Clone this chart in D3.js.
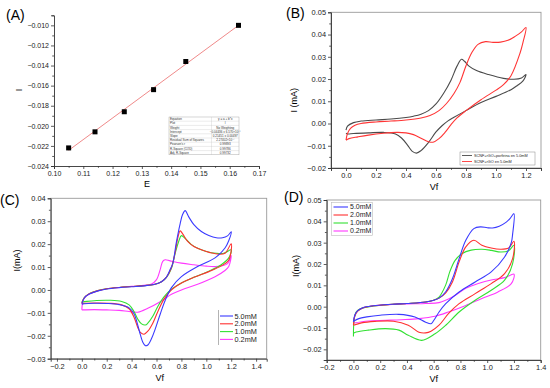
<!DOCTYPE html>
<html>
<head>
<meta charset="utf-8">
<script src="https://cdn.jsdelivr.net/npm/d3@7"></script>
<style>
  body { margin: 0; background: #fff; }
  svg { display: block; font-family: "Liberation Sans", Arial, sans-serif; }
</style>
</head>
<body>
<svg id="fig" width="550" height="388"></svg>
<script>
// ---------- (A) peak current vs potential ----------
const aE = [0.105, 0.114, 0.124, 0.134, 0.145, 0.163]
const aI = [-0.0222, -0.0206, -0.0186, -0.0164, -0.0136, -0.0100]
const aFitLabels = ['Equation', 'Plot', 'Weight', 'Intercept', 'Slope', 'Residual Sum of Squares', "Pearson's r", 'R-Square (COD)', 'Adj. R-Square']
const aFitValues = ['y = a + b*x', 'I', 'No Weighting', '\u22120.04436 \u00b1 6.570\u00d710\u207b\u2074', '0.21451 \u00b1 0.00497', '2.27402\u00d710\u207b\u2077', '0.99893', '0.99786', '0.99732']

// ---------- (B) 5.0 mM, with / without porphyrin ----------
const bLabels = ['SCNF+rGO+porfirina en 5.0mM', 'SCNF+rGO en 5.0mM']
const bPorf = [[0, -0.0030], [0.01, -0.0012], [0.05, 0.0004], [0.1, 0.0011], [0.2, 0.0016], [0.3, 0.0020], [0.4, 0.0027], [0.45, 0.0033], [0.5, 0.0042], [0.55, 0.0058], [0.6, 0.0088], [0.65, 0.0135], [0.7, 0.0195], [0.74, 0.0258], [0.77, 0.0289], [0.79, 0.0280], [0.82, 0.0258], [0.87, 0.0238], [0.95, 0.0220], [1.05, 0.0203], [1.12, 0.0199], [1.17, 0.0205], [1.2, 0.0220],
  [1.18, 0.0192], [1.14, 0.0170], [1.1, 0.0152], [1.0, 0.0122], [0.9, 0.0094], [0.8, 0.0058], [0.72, 0.0028], [0.68, 0.0012], [0.64, -0.0010], [0.6, -0.0038], [0.55, -0.0085], [0.5, -0.0122], [0.47, -0.0133], [0.44, -0.0124], [0.41, -0.0097], [0.37, -0.0065], [0.33, -0.0047], [0.25, -0.0040], [0.15, -0.0042], [0.05, -0.0045], [0.01, -0.0047], [0, -0.0044]]
const bNoPorf = [[0, -0.0075], [0.01, -0.0045], [0.03, -0.0022], [0.06, -0.0008], [0.1, 0.0000], [0.2, 0.0007], [0.3, 0.0011], [0.4, 0.0016], [0.5, 0.0025], [0.56, 0.0036], [0.62, 0.0058], [0.67, 0.0090], [0.72, 0.0135], [0.76, 0.0185], [0.8, 0.0260], [0.84, 0.0320], [0.88, 0.0356], [0.93, 0.0368], [0.98, 0.0365], [1.03, 0.0366], [1.08, 0.0374], [1.13, 0.0393], [1.17, 0.0412], [1.2, 0.0432],
  [1.18, 0.0365], [1.16, 0.0316], [1.1, 0.0215], [1.05, 0.0175], [1.0, 0.0150], [0.9, 0.0107], [0.8, 0.0058], [0.74, 0.0025], [0.7, -0.0005], [0.66, -0.0040], [0.62, -0.0068], [0.58, -0.0084], [0.55, -0.0082], [0.5, -0.0066], [0.45, -0.0050], [0.4, -0.0042], [0.34, -0.0040], [0.25, -0.0044], [0.15, -0.0052], [0.08, -0.0060], [0.02, -0.0068], [0, -0.0075]]

// ---------- (C) concentrations ----------
const concLabels = ['5.0mM', '2.0mM', '1.0mM', '0.2mM']
const c50 = [[0, -0.0060], [0.02, -0.0035], [0.06, -0.0018], [0.13, -0.0004], [0.2, 0.0004], [0.3, 0.0010], [0.4, 0.0014], [0.5, 0.0018], [0.58, 0.0024], [0.64, 0.0036], [0.68, 0.0056], [0.71, 0.0090], [0.73, 0.0115], [0.76, 0.0210], [0.79, 0.0290], [0.81, 0.0330], [0.83, 0.0346], [0.86, 0.0318], [0.9, 0.0285], [0.96, 0.0255], [1.02, 0.0238], [1.08, 0.0228], [1.13, 0.0228], [1.17, 0.0236], [1.2, 0.0254],
  [1.18, 0.0215], [1.15, 0.0183], [1.07, 0.0140], [0.93, 0.0102], [0.8, 0.0058], [0.72, 0.0010], [0.67, -0.0045], [0.63, -0.0105], [0.59, -0.0170], [0.56, -0.0212], [0.53, -0.0240], [0.51, -0.0243], [0.49, -0.0228], [0.47, -0.0195], [0.45, -0.0155], [0.42, -0.0105], [0.38, -0.0078], [0.3, -0.0064], [0.2, -0.0059], [0.1, -0.0058], [0.02, -0.0060], [0, -0.0062]]
const c20 = [[0, -0.0058], [0.02, -0.0034], [0.06, -0.0017], [0.13, -0.0003], [0.2, 0.0005], [0.3, 0.0011], [0.4, 0.0015], [0.5, 0.0019], [0.58, 0.0024], [0.64, 0.0036], [0.68, 0.0056], [0.72, 0.0098], [0.75, 0.0165], [0.77, 0.0225], [0.79, 0.0258], [0.81, 0.0245], [0.85, 0.0212], [0.9, 0.0190], [0.96, 0.0175], [1.03, 0.0163], [1.1, 0.0156], [1.15, 0.0160], [1.2, 0.0202],
  [1.18, 0.0130], [1.12, 0.0105], [1.02, 0.0080], [0.9, 0.0055], [0.8, 0.0030], [0.72, 0.0000], [0.66, -0.0040], [0.61, -0.0095], [0.57, -0.0145], [0.53, -0.0180], [0.5, -0.0193], [0.47, -0.0185], [0.45, -0.0165], [0.42, -0.0120], [0.38, -0.0082], [0.32, -0.0065], [0.22, -0.0058], [0.1, -0.0057], [0.02, -0.0058], [0, -0.0060]]
const c10 = [[0, -0.0055], [0.02, -0.0033], [0.06, -0.0016], [0.13, -0.0003], [0.2, 0.0005], [0.3, 0.0011], [0.4, 0.0015], [0.5, 0.0019], [0.58, 0.0024], [0.64, 0.0036], [0.68, 0.0055], [0.72, 0.0095], [0.75, 0.0160], [0.78, 0.0215], [0.8, 0.0237], [0.83, 0.0225], [0.88, 0.0198], [0.94, 0.0180], [1.0, 0.0168], [1.08, 0.0160], [1.14, 0.0160], [1.2, 0.0175],
  [1.18, 0.0140], [1.12, 0.0110], [1.02, 0.0082], [0.9, 0.0055], [0.8, 0.0030], [0.72, 0.0003], [0.66, -0.0030], [0.61, -0.0072], [0.57, -0.0115], [0.53, -0.0145], [0.51, -0.0153], [0.48, -0.0148], [0.45, -0.0128], [0.42, -0.0095], [0.38, -0.0065], [0.32, -0.0050], [0.22, -0.0045], [0.12, -0.0046], [0.04, -0.0050], [0, -0.0054]]
const c02 = [[0, -0.0087], [0.005, -0.0060], [0.02, -0.0035], [0.06, -0.0018], [0.13, -0.0003], [0.2, 0.0005], [0.3, 0.0011], [0.4, 0.0016], [0.5, 0.0020], [0.56, 0.0026], [0.6, 0.0045], [0.63, 0.0090], [0.65, 0.0125], [0.67, 0.0132], [0.71, 0.0127], [0.8, 0.0117], [0.9, 0.0110], [1.0, 0.0104], [1.07, 0.0102], [1.13, 0.0106], [1.17, 0.0115], [1.2, 0.0150],
  [1.18, 0.0102], [1.15, 0.0085], [1.07, 0.0058], [0.93, 0.0025], [0.8, 0.0000], [0.72, -0.0019], [0.64, -0.0048], [0.53, -0.0080], [0.45, -0.0097], [0.38, -0.0094], [0.3, -0.0089], [0.2, -0.0087], [0.1, -0.0086], [0, -0.0087]]

// ---------- (D) concentrations ----------
const d50 = [[0, -0.0072], [0.01, -0.0040], [0.03, -0.0020], [0.07, -0.0005], [0.15, 0.0004], [0.29, 0.0011], [0.4, 0.0015], [0.54, 0.0022], [0.6, 0.0030], [0.64, 0.0040], [0.69, 0.0070], [0.74, 0.0131], [0.79, 0.0225], [0.84, 0.0311], [0.9, 0.0366], [0.95, 0.0374], [1.0, 0.0370], [1.04, 0.0369], [1.09, 0.0377], [1.14, 0.0395], [1.17, 0.0413], [1.2, 0.0436],
  [1.19, 0.0340], [1.18, 0.0300], [1.13, 0.0233], [1.03, 0.0163], [0.91, 0.0116], [0.79, 0.0069], [0.69, 0.0014], [0.64, -0.0025], [0.6, -0.0065], [0.58, -0.0080], [0.54, -0.0073], [0.46, -0.0048], [0.34, -0.0036], [0.2, -0.0040], [0.1, -0.0048], [0.04, -0.0056], [0, -0.0069]]
const d20 = [[0, -0.0087], [0.01, -0.0045], [0.03, -0.0022], [0.07, -0.0006], [0.15, 0.0004], [0.29, 0.0011], [0.4, 0.0015], [0.54, 0.0022], [0.6, 0.0030], [0.64, 0.0040], [0.69, 0.0065], [0.74, 0.0116], [0.79, 0.0210], [0.84, 0.0280], [0.9, 0.0311], [0.96, 0.0288], [1.03, 0.0275], [1.1, 0.0269], [1.16, 0.0275], [1.2, 0.0307],
  [1.19, 0.0225], [1.13, 0.0155], [1.03, 0.0108], [0.91, 0.0061], [0.79, 0.0014], [0.71, -0.0033], [0.64, -0.0087], [0.58, -0.0115], [0.54, -0.0123], [0.49, -0.0120], [0.41, -0.0087], [0.3, -0.0068], [0.16, -0.0069], [0.06, -0.0076], [0, -0.0087]]
const d10 = [[0, -0.0140], [0.005, -0.0060], [0.02, -0.0025], [0.06, -0.0008], [0.15, 0.0003], [0.29, 0.0011], [0.4, 0.0015], [0.54, 0.0022], [0.6, 0.0030], [0.64, 0.0045], [0.69, 0.0102], [0.72, 0.0163], [0.76, 0.0217], [0.81, 0.0248], [0.88, 0.0265], [0.96, 0.0269], [1.03, 0.0264], [1.1, 0.0256], [1.16, 0.0262], [1.2, 0.0288],
  [1.19, 0.0202], [1.13, 0.0124], [1.03, 0.0077], [0.91, 0.0030], [0.79, -0.0025], [0.69, -0.0087], [0.61, -0.0127], [0.51, -0.0158], [0.41, -0.0134], [0.34, -0.0110], [0.24, -0.0103], [0.11, -0.0110], [0.02, -0.0119], [0, -0.0125]]
const d02 = [[0, -0.0077], [0.01, -0.0042], [0.03, -0.0020], [0.07, -0.0005], [0.15, 0.0004], [0.29, 0.0010], [0.4, 0.0013], [0.54, 0.0015], [0.64, 0.0019], [0.74, 0.0045], [0.84, 0.0086], [0.94, 0.0110], [1.03, 0.0125], [1.13, 0.0136], [1.2, 0.0152],
  [1.18, 0.0108], [1.08, 0.0069], [0.96, 0.0038], [0.84, 0.0006], [0.71, -0.0025], [0.61, -0.0045], [0.49, -0.0056], [0.36, -0.0061], [0.24, -0.0064], [0.11, -0.0067], [0, -0.0077]]

const concColors = ['#3a3aff', '#ff3030', '#33e033', '#ff38ff']

const svg = d3.select('#fig')
svg.append('rect').attr('width', 550).attr('height', 388).attr('fill', '#fff')

// draws ticks + minor ticks for one axis
function drawAxis (g, axisFn, scale, majors, minors, fmt, transform) {
  const major = g.append('g').attr('transform', transform)
    .call(axisFn(scale).tickValues(majors).tickSize(3).tickPadding(2).tickFormat(fmt))
  g.append('g').attr('transform', transform)
    .call(axisFn(scale).tickValues(minors).tickSize(1.8).tickFormat(''))
    .call(s => s.select('.domain').remove())
  return major
}

function styleAxes (g, fs) {
  g.selectAll('.domain').attr('stroke', '#333').attr('stroke-width', 0.9)
  g.selectAll('.tick line').attr('stroke', '#333').attr('stroke-width', 0.8)
  g.selectAll('.tick text').attr('font-size', fs).attr('fill', '#222')
    .attr('font-family', '"Liberation Sans", Arial, sans-serif')
}

function range (a, b, step) {
  const out = []
  for (let v = a; v <= b + step / 10; v += step) out.push(+v.toFixed(4))
  return out
}

// CV panel
function cvPanel (o) {
  const g = svg.append('g')
  const x = d3.scaleLinear().domain(o.xDomain).range(o.xRange)
  const y = d3.scaleLinear().domain(o.yDomain).range(o.yRange)
  // frame (top/right lighter)
  g.append('rect')
    .attr('x', o.xRange[0]).attr('y', o.yRange[1])
    .attr('width', o.xRange[1] - o.xRange[0]).attr('height', o.yRange[0] - o.yRange[1])
    .attr('fill', 'none').attr('stroke', '#9a9a9a').attr('stroke-width', 0.9)
  drawAxis(g, d3.axisBottom, x, o.xTicks, o.xMinor, d3.format('.1f'), `translate(0,${o.yRange[0]})`)
  drawAxis(g, d3.axisLeft, y, o.yTicks, o.yMinor, d3.format('.2f'), `translate(${o.xRange[0]},0)`)
  styleAxes(g, 7.4)

  const line = d3.line()
    .x(d => x(d[0])).y(d => y(d[1]))
    .curve(d3.curveCatmullRom.alpha(0.5))
  o.series.forEach((s, i) => {
    g.append('path').datum(s).attr('d', line)
      .attr('fill', 'none').attr('stroke', o.colors[i]).attr('stroke-width', 1.1)
  })

  // titles
  g.append('text').attr('x', (o.xRange[0] + o.xRange[1]) / 2 + o.xtDx).attr('y', o.yRange[0] + 22)
    .attr('text-anchor', 'middle').attr('font-size', 9).text('Vf')
  g.append('text')
    .attr('transform', `translate(${o.ytX},${(o.yRange[0] + o.yRange[1]) / 2 + o.ytDy}) rotate(-90)`)
    .attr('text-anchor', 'middle').attr('font-size', 9).text(o.yTitle)
  g.append('text').attr('x', o.letter[1]).attr('y', o.letter[2])
    .attr('font-size', 14).text(o.letter[0])
  return { g, x, y }
}

// ---------- Panel A ----------
;(function () {
  const g = svg.append('g')
  const x = d3.scaleLinear().domain([0.10, 0.17]).range([54, 259])
  const y = d3.scaleLinear().domain([-0.024, -0.009]).range([166, 15.3])
  drawAxis(g, d3.axisBottom, x, range(0.10, 0.17, 0.01), range(0.105, 0.165, 0.01), d3.format('.2f'), 'translate(0,166)')
  drawAxis(g, d3.axisLeft, y, range(-0.024, -0.010, 0.002), range(-0.023, -0.009, 0.002), d3.format('.3f'), 'translate(54,0)')
  styleAxes(g, 7)

  // least squares fit of the data
  const n = aE.length
  const mx = d3.mean(aE); const my = d3.mean(aI)
  const b = d3.sum(aE.map((e, i) => (e - mx) * (aI[i] - my))) / d3.sum(aE.map(e => (e - mx) * (e - mx)))
  const a = my - b * mx
  const ex = d3.extent(aE)
  g.append('line')
    .attr('x1', x(ex[0])).attr('y1', y(a + b * ex[0]))
    .attr('x2', x(ex[1])).attr('y2', y(a + b * ex[1]))
    .attr('stroke', '#f08a8a').attr('stroke-width', 1)
  g.selectAll('rect.pt').data(aE).enter().append('rect')
    .attr('class', 'pt')
    .attr('x', (d, i) => x(d) - 2.5).attr('y', (d, i) => y(aI[i]) - 2.5)
    .attr('width', 5).attr('height', 5).attr('fill', '#000')

  // fit table
  const tx = 169; const ty = 117; const tw = 70; const rh = 4.2; const split = 42.5
  const t = g.append('g')
  t.append('rect').attr('x', tx).attr('y', ty).attr('width', tw).attr('height', rh * n + rh * 3)
    .attr('fill', '#fff').attr('stroke', '#999').attr('stroke-width', 0.4)
  aFitLabels.forEach((lab, i) => {
    if (i > 0) {
      t.append('line').attr('x1', tx).attr('x2', tx + tw).attr('y1', ty + i * rh).attr('y2', ty + i * rh)
        .attr('stroke', '#bbb').attr('stroke-width', 0.3)
    }
    t.append('text').attr('x', tx + 1).attr('y', ty + i * rh + 3.1).attr('font-size', 3).attr('fill', '#333').text(lab)
    t.append('text').attr('x', tx + split + (tw - split) / 2).attr('y', ty + i * rh + 3.1)
      .attr('text-anchor', 'middle').attr('font-size', 3).attr('fill', '#333').text(aFitValues[i])
  })
  t.append('line').attr('x1', tx + split).attr('x2', tx + split).attr('y1', ty).attr('y2', ty + rh * 9)
    .attr('stroke', '#bbb').attr('stroke-width', 0.3)

  g.append('text').attr('x', 147).attr('y', 187).attr('text-anchor', 'middle').attr('font-size', 9).text('E')
  g.append('text').attr('transform', 'translate(22,90) rotate(-90)').attr('text-anchor', 'middle')
    .attr('font-size', 9).text('I')
  g.append('text').attr('x', 6).attr('y', 20).attr('font-size', 14).text('(A)')
})()

// ---------- Panel B ----------
;(function () {
  const p = cvPanel({
    xDomain: [-0.1, 1.3], xRange: [331, 541],
    yDomain: [-0.02, 0.05], yRange: [168, 12.3],
    xTicks: range(0, 1.2, 0.2), xMinor: range(-0.1, 1.3, 0.2),
    yTicks: range(-0.02, 0.05, 0.01), yMinor: range(-0.015, 0.045, 0.01),
    series: [bPorf, bNoPorf], colors: ['#4a4a4a', '#ff3535'],
    yTitle: 'I (mA)', ytX: 297, ytDy: 10, xtDx: -2,
    letter: ['(B)', 286, 18]
  })
  const lg = p.g.append('g')
  lg.append('rect').attr('x', 460).attr('y', 152).attr('width', 75).attr('height', 13)
    .attr('fill', '#fff').attr('stroke', '#888').attr('stroke-width', 0.5)
  bLabels.forEach((lab, i) => {
    const yy = 155.5 + i * 6
    lg.append('line').attr('x1', 462).attr('x2', 472).attr('y1', yy).attr('y2', yy)
      .attr('stroke', i === 0 ? '#4a4a4a' : '#ff3535').attr('stroke-width', 0.9)
    lg.append('text').attr('x', 474).attr('y', yy + 1.3).attr('font-size', 3.8).attr('fill', '#222').text(lab)
  })
})()

// ---------- Panel C ----------
;(function () {
  const p = cvPanel({
    xDomain: [-0.25, 1.485], xRange: [50.7, 266.7],
    yDomain: [-0.03, 0.04], yRange: [358.7, 198.3],
    xTicks: range(-0.2, 1.4, 0.2), xMinor: range(-0.1, 1.3, 0.2),
    yTicks: range(-0.03, 0.04, 0.01), yMinor: range(-0.025, 0.035, 0.01),
    series: [c02, c10, c20, c50], colors: [concColors[3], concColors[2], concColors[1], concColors[0]],
    yTitle: 'I(mA)', ytX: 20, ytDy: -18, xtDx: 1,
    letter: ['(C)', 0, 205]
  })
  const lg = p.g.append('g')
  lg.append('line').attr('x1', 218.5).attr('x2', 218.5).attr('y1', 310).attr('y2', 345)
    .attr('stroke', '#aaa').attr('stroke-width', 0.9)
  concLabels.forEach((lab, i) => {
    const yy = 316 + i * 7.8
    lg.append('line').attr('x1', 220).attr('x2', 233).attr('y1', yy).attr('y2', yy)
      .attr('stroke', concColors[i]).attr('stroke-width', 1.1)
    lg.append('text').attr('x', 234.5).attr('y', yy + 2.5).attr('font-size', 7.3).attr('fill', '#222').text(lab)
  })
})()

// ---------- Panel D ----------
;(function () {
  const p = cvPanel({
    xDomain: [-0.2, 1.4], xRange: [326.7, 540.7],
    yDomain: [-0.025, 0.05], yRange: [360, 200],
    xTicks: range(-0.2, 1.4, 0.2), xMinor: range(-0.1, 1.3, 0.2),
    yTicks: range(-0.02, 0.05, 0.01), yMinor: range(-0.025, 0.045, 0.01),
    series: [d02, d10, d20, d50], colors: [concColors[3], concColors[2], concColors[1], concColors[0]],
    yTitle: 'I(mA)', ytX: 299, ytDy: -14, xtDx: 0,
    letter: ['(D)', 284, 202]
  })
  const lg = p.g.append('g')
  lg.append('rect').attr('x', 331.5).attr('y', 202.5).attr('width', 41).attr('height', 33)
    .attr('fill', '#fff').attr('stroke', '#bbb').attr('stroke-width', 0.6)
  concLabels.forEach((lab, i) => {
    const yy = 207 + i * 8
    lg.append('line').attr('x1', 333.5).attr('x2', 348).attr('y1', yy).attr('y2', yy)
      .attr('stroke', concColors[i]).attr('stroke-width', 1.1)
    lg.append('text').attr('x', 350).attr('y', yy + 2.4).attr('font-size', 7).attr('fill', '#222').text(lab)
  })
})()
</script>
</body>
</html>
